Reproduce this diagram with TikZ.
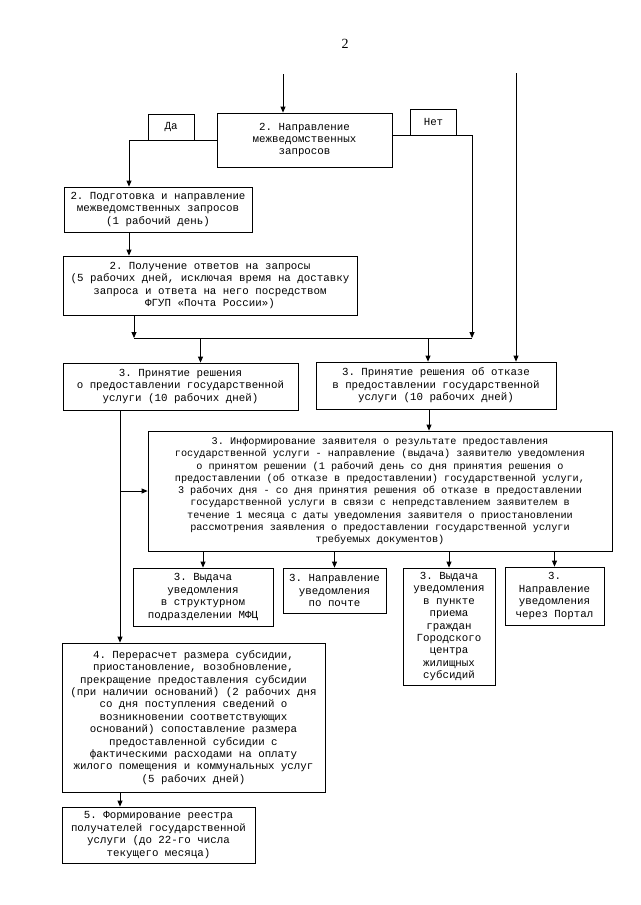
\documentclass[tikz,border=0pt]{standalone}
\usepackage{fontspec}
\setmainfont{Liberation Serif}
\setmonofont{Liberation Mono}
\usetikzlibrary{arrows.meta,positioning,calc}

\begin{document}
\begin{tikzpicture}[
    x=1pt, y=-1pt,
    font=\ttfamily\fontsize{10.8}{12.4}\selectfont,
    box/.style={draw, line width=0.8pt, align=center, inner sep=0pt},
    tag/.style={draw, line width=0.8pt, minimum width=46pt, minimum height=26pt, inner sep=0pt},
    line/.style={-{Triangle[length=6pt,width=5pt]}, line width=0.8pt},
    wire/.style={line width=0.8pt},
  ]
    \useasboundingbox (0,0) rectangle (640,905);
    \node (page) at (345,44) {\rmfamily\fontsize{14}{16}\selectfont 2};

    % requests
    \node[box, minimum width=175pt, minimum height=54pt] (main) at (304.5,140) {2. Направление\\межведомственных\\запросов};
    \node[tag] (yes) at (171,127) {Да};
    \node[tag] (no) at (433.5,122) {Нет};
    \node[box, minimum width=188pt, minimum height=45pt] (prep) at (158,209.5) {2. Подготовка и направление\\межведомственных запросов\\(1 рабочий день)};
    \node[box, minimum width=294pt, minimum height=59pt] (recv) at (210,285.5) {2. Получение ответов на запросы\\(5 рабочих дней, исключая время на доставку\\запроса и ответа на него посредством\\ФГУП «Почта России»)};

    % decision
    \node[box, minimum width=235pt, minimum height=47pt] (grant) at (180.5,386.5) {3. Принятие решения\\о предоставлении государственной\\услуги (10 рабочих дней)};
    \node[box, minimum width=240pt, minimum height=47pt] (deny) at (436,385.5) {3. Принятие решения об отказе\\в предоставлении государственной\\услуги (10 рабочих дней)};
    \node[box, minimum width=464pt, minimum height=120pt, font=\ttfamily\fontsize{10.2}{12.3}\selectfont] (info) at (380,491) {3. Информирование заявителя о результате предоставления\\государственной услуги - направление (выдача) заявителю уведомления\\о принятом решении (1 рабочий день со дня принятия решения о\\предоставлении (об отказе в предоставлении) государственной услуги,\\3 рабочих дня - со дня принятия решения об отказе в предоставлении\\государственной услуги в связи с непредставлением заявителем в\\течение 1 месяца с даты уведомления заявителя о приостановлении\\рассмотрения заявления о предоставлении государственной услуги\\требуемых документов)};

    % notification
    \node[box, minimum width=140pt, minimum height=58pt] (mfc) at (203,597) {3. Выдача\\уведомления\\в структурном\\подразделении МФЦ};
    \node[box, minimum width=103pt, minimum height=45pt] (post) at (334.5,590.5) {3. Направление\\уведомления\\по почте};
    \node[box, minimum width=92pt, minimum height=117pt] (center) at (449,626.5) {3. Выдача\\уведомления\\в пункте\\приема\\граждан\\Городского\\центра\\жилищных\\субсидий};
    \node[box, minimum width=99pt, minimum height=58pt] (portal) at (554.5,596) {3.\\Направление\\уведомления\\через Портал};

    % recalculation
    \node[box, minimum width=263pt, minimum height=149pt] (recalc) at (193.5,717.5) {4. Перерасчет размера субсидии,\\приостановление, возобновление,\\прекращение предоставления субсидии\\(при наличии оснований) (2 рабочих дня\\со дня поступления сведений о\\возникновении соответствующих\\оснований) сопоставление размера\\предоставленной субсидии с\\фактическими расходами на оплату\\жилого помещения и коммунальных услуг\\(5 рабочих дней)};
    \node[box, minimum width=193pt, minimum height=56pt] (registry) at (158.5,835) {5. Формирование реестра\\получателей государственной\\услуги (до 22-го числа\\текущего месяца)};

    \coordinate (in) at (283,74);
    \coordinate (side) at (516,73);
    \coordinate (bend) at (472,338);
    \coordinate (join) at (134,338);
    \coordinate (trunk) at (120,410);

    \draw[line] (in) -- (in |- main.north);
    \draw[line] (main.west) -| ([xshift=-29pt]prep.north);
    \draw[line] (main.east |- no.south) -| (bend);
    \draw[line] ([xshift=-29pt]prep.south) -- ([xshift=-29pt]prep.south |- recv.north);
    \draw[line] (join |- recv.south) -- (join);
    \draw[wire] (join) -- (bend);
    \draw[line] ([xshift=20pt]grant.north |- join) -- ([xshift=20pt]grant.north);
    \draw[line] ([xshift=-8pt]deny.north |- join) -- ([xshift=-8pt]deny.north);
    \draw[line] (side) -- (side |- deny.north);
    \draw[line] ([xshift=-7pt]deny.south) -- ([xshift=-7pt]deny.south |- info.north);
    \draw[line] (trunk) -- (trunk |- recalc.north);
    \draw[line] (trunk |- info.west) -- (info.west);
    \draw[line] (info.south -| mfc.north) -- (mfc.north);
    \draw[line] (info.south -| post.north) -- (post.north);
    \draw[line] (info.south -| center.north) -- (center.north);
    \draw[line] (info.south -| portal.north) -- (portal.north);
    \draw[line] (trunk |- recalc.south) -- (trunk |- registry.north);
\end{tikzpicture}
\end{document}
